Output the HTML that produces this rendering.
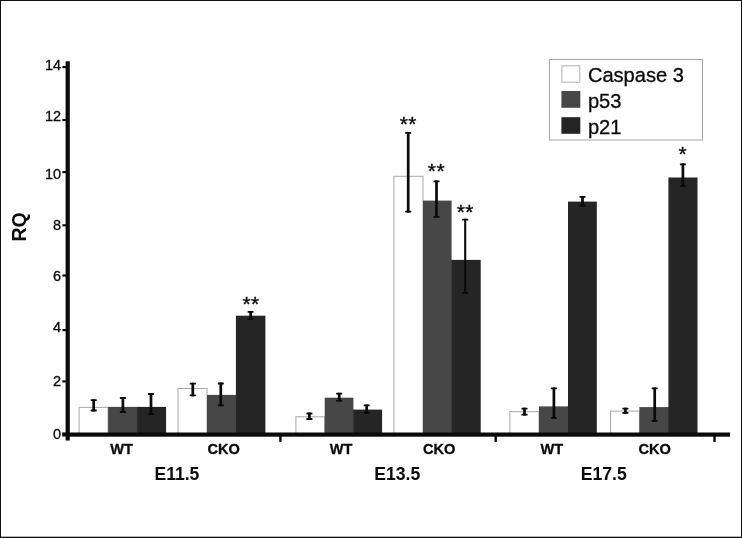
<!DOCTYPE html>
<html><head><meta charset="utf-8"><title>RQ chart</title>
<style>
html,body{margin:0;padding:0;background:#fff;}
body{width:742px;height:538px;overflow:hidden;}
svg{display:block;}
text{font-family:"Liberation Sans",Arial,sans-serif;fill:#0a0a0a;}
.b{font-weight:bold;}
.t{stroke:#0a0a0a;stroke-width:0.3px;}
.s{stroke:#0a0a0a;stroke-width:0.35px;letter-spacing:0.4px;}
</style></head><body>
<svg width="742" height="538" viewBox="0 0 742 538">
<rect x="0" y="0" width="742" height="538" fill="#fff"/>

<rect x="79.1" y="407.4" width="29.0" height="26.1" fill="#fff" stroke="#a8a8a8" stroke-width="1"/>
<rect x="108.1" y="406.9" width="29.0" height="26.1" fill="#474747"/>
<rect x="136.6" y="406.9" width="1.2" height="26.1" fill="#474747"/>
<rect x="137.1" y="406.9" width="29.0" height="26.1" fill="#252525"/>
<rect x="178.0" y="388.5" width="29.0" height="45.0" fill="#fff" stroke="#a8a8a8" stroke-width="1"/>
<rect x="207.0" y="394.9" width="28.9" height="38.1" fill="#474747"/>
<rect x="235.4" y="394.9" width="1.2" height="38.1" fill="#474747"/>
<rect x="235.9" y="315.7" width="29.5" height="117.3" fill="#252525"/>
<rect x="295.9" y="416.8" width="28.8" height="16.7" fill="#fff" stroke="#a8a8a8" stroke-width="1"/>
<rect x="324.7" y="397.7" width="28.7" height="35.3" fill="#474747"/>
<rect x="352.9" y="409.6" width="1.2" height="23.4" fill="#474747"/>
<rect x="353.4" y="409.6" width="28.7" height="23.4" fill="#252525"/>
<rect x="393.9" y="176.3" width="29.1" height="257.2" fill="#fff" stroke="#a8a8a8" stroke-width="1"/>
<rect x="423.0" y="200.6" width="28.6" height="232.4" fill="#474747"/>
<rect x="451.1" y="259.9" width="1.2" height="173.1" fill="#474747"/>
<rect x="451.6" y="259.9" width="29.1" height="173.1" fill="#252525"/>
<rect x="509.9" y="411.7" width="29.1" height="21.8" fill="#fff" stroke="#a8a8a8" stroke-width="1"/>
<rect x="539.0" y="406.4" width="29.0" height="26.6" fill="#474747"/>
<rect x="567.5" y="406.4" width="1.2" height="26.6" fill="#474747"/>
<rect x="568.0" y="201.6" width="28.8" height="231.4" fill="#252525"/>
<rect x="610.5" y="411.1" width="28.9" height="22.4" fill="#fff" stroke="#a8a8a8" stroke-width="1"/>
<rect x="639.4" y="407.1" width="29.0" height="25.9" fill="#474747"/>
<rect x="667.9" y="407.1" width="1.2" height="25.9" fill="#474747"/>
<rect x="668.4" y="177.5" width="29.1" height="255.5" fill="#252525"/>
<rect x="65.6" y="61.3" width="4.2" height="379.2" fill="#0a0a0a"/>
<rect x="66" y="432.5" width="664" height="4.2" fill="#0a0a0a"/>
<rect x="62.4" y="66.0" width="4.5" height="2.2" fill="#0a0a0a"/>
<text class="t" x="61.2" y="70.3" font-size="14.5" text-anchor="end">14</text>
<rect x="62.4" y="118.9" width="4.5" height="2.2" fill="#0a0a0a"/>
<text class="t" x="61.2" y="121.3" font-size="14.5" text-anchor="end">12</text>
<rect x="62.4" y="171.0" width="4.5" height="2.2" fill="#0a0a0a"/>
<text class="t" x="61.2" y="178.5" font-size="14.5" text-anchor="end">10</text>
<rect x="62.4" y="224.2" width="4.5" height="2.2" fill="#0a0a0a"/>
<text class="t" x="61.2" y="229.8" font-size="14.5" text-anchor="end">8</text>
<rect x="62.4" y="274.4" width="4.5" height="2.2" fill="#0a0a0a"/>
<text class="t" x="61.2" y="281.3" font-size="14.5" text-anchor="end">6</text>
<rect x="62.4" y="329.0" width="4.5" height="2.2" fill="#0a0a0a"/>
<text class="t" x="61.2" y="331.8" font-size="14.5" text-anchor="end">4</text>
<rect x="62.4" y="380.3" width="4.5" height="2.2" fill="#0a0a0a"/>
<text class="t" x="61.2" y="386.3" font-size="14.5" text-anchor="end">2</text>
<rect x="62.2" y="432.4" width="5" height="4.1" fill="#0a0a0a"/>
<text class="t" x="61.2" y="438.5" font-size="14.5" text-anchor="end">0</text>
<rect x="279.2" y="436" width="2.4" height="5.9" fill="#0a0a0a"/>
<rect x="494.5" y="436" width="2.4" height="5.9" fill="#0a0a0a"/>
<rect x="713.3" y="436" width="2.4" height="5.9" fill="#0a0a0a"/>
<rect x="92.35" y="399.3" width="2.7" height="12.1" fill="#0a0a0a"/>
<rect x="90.65" y="399.3" width="6.1" height="1.8" rx="0.5" fill="#0a0a0a"/>
<rect x="90.65" y="409.6" width="6.1" height="1.8" rx="0.5" fill="#0a0a0a"/>
<rect x="121.55" y="397.1" width="2.7" height="15.8" fill="#0a0a0a"/>
<rect x="119.85" y="397.1" width="6.1" height="1.8" rx="0.5" fill="#0a0a0a"/>
<rect x="119.85" y="411.1" width="6.1" height="1.8" rx="0.5" fill="#0a0a0a"/>
<rect x="149.65" y="393.1" width="2.7" height="21.9" fill="#0a0a0a"/>
<rect x="147.95" y="393.1" width="6.1" height="1.8" rx="0.5" fill="#0a0a0a"/>
<rect x="147.95" y="413.2" width="6.1" height="1.8" rx="0.5" fill="#0a0a0a"/>
<rect x="191.45" y="382.8" width="2.7" height="13.5" fill="#0a0a0a"/>
<rect x="189.75" y="382.8" width="6.1" height="1.8" rx="0.5" fill="#0a0a0a"/>
<rect x="189.75" y="394.5" width="6.1" height="1.8" rx="0.5" fill="#0a0a0a"/>
<rect x="219.45" y="382.6" width="2.7" height="23.7" fill="#0a0a0a"/>
<rect x="217.75" y="382.6" width="6.1" height="1.8" rx="0.5" fill="#0a0a0a"/>
<rect x="217.75" y="404.5" width="6.1" height="1.8" rx="0.5" fill="#0a0a0a"/>
<rect x="249.25" y="311.0" width="2.7" height="8.8" fill="#0a0a0a"/>
<rect x="247.55" y="311.0" width="6.1" height="1.8" rx="0.5" fill="#0a0a0a"/>
<rect x="247.55" y="318.0" width="6.1" height="1.8" rx="0.5" fill="#0a0a0a"/>
<rect x="308.05" y="412.6" width="2.7" height="7.3" fill="#0a0a0a"/>
<rect x="306.35" y="412.6" width="6.1" height="1.8" rx="0.5" fill="#0a0a0a"/>
<rect x="306.35" y="418.1" width="6.1" height="1.8" rx="0.5" fill="#0a0a0a"/>
<rect x="337.85" y="392.8" width="2.7" height="8.7" fill="#0a0a0a"/>
<rect x="336.15" y="392.8" width="6.1" height="1.8" rx="0.5" fill="#0a0a0a"/>
<rect x="336.15" y="399.7" width="6.1" height="1.8" rx="0.5" fill="#0a0a0a"/>
<rect x="365.35" y="404.5" width="2.7" height="9.3" fill="#0a0a0a"/>
<rect x="363.65" y="404.5" width="6.1" height="1.8" rx="0.5" fill="#0a0a0a"/>
<rect x="363.65" y="412.0" width="6.1" height="1.8" rx="0.5" fill="#0a0a0a"/>
<rect x="406.85" y="131.9" width="2.7" height="80.7" fill="#0a0a0a"/>
<rect x="405.15" y="131.9" width="6.1" height="1.8" rx="0.5" fill="#0a0a0a"/>
<rect x="405.15" y="210.8" width="6.1" height="1.8" rx="0.5" fill="#0a0a0a"/>
<rect x="435.15" y="180.5" width="2.7" height="37.3" fill="#0a0a0a"/>
<rect x="433.45" y="180.5" width="6.1" height="1.8" rx="0.5" fill="#0a0a0a"/>
<rect x="433.45" y="216.0" width="6.1" height="1.8" rx="0.5" fill="#0a0a0a"/>
<rect x="464.15" y="218.8" width="2.1" height="74.9" fill="#0a0a0a"/>
<rect x="462.15" y="218.8" width="6.1" height="1.8" rx="0.5" fill="#0a0a0a"/>
<rect x="462.15" y="291.9" width="6.1" height="1.8" rx="0.5" fill="#0a0a0a"/>
<rect x="523.15" y="407.7" width="2.7" height="7.9" fill="#0a0a0a"/>
<rect x="521.45" y="407.7" width="6.1" height="1.8" rx="0.5" fill="#0a0a0a"/>
<rect x="521.45" y="413.8" width="6.1" height="1.8" rx="0.5" fill="#0a0a0a"/>
<rect x="552.55" y="387.5" width="2.7" height="31.2" fill="#0a0a0a"/>
<rect x="550.85" y="387.5" width="6.1" height="1.8" rx="0.5" fill="#0a0a0a"/>
<rect x="550.85" y="416.9" width="6.1" height="1.8" rx="0.5" fill="#0a0a0a"/>
<rect x="581.15" y="196.0" width="2.7" height="10.4" fill="#0a0a0a"/>
<rect x="579.45" y="196.0" width="6.1" height="1.8" rx="0.5" fill="#0a0a0a"/>
<rect x="579.45" y="204.6" width="6.1" height="1.8" rx="0.5" fill="#0a0a0a"/>
<rect x="624.05" y="407.7" width="2.7" height="6.1" fill="#0a0a0a"/>
<rect x="622.35" y="407.7" width="6.1" height="1.8" rx="0.5" fill="#0a0a0a"/>
<rect x="622.35" y="412.0" width="6.1" height="1.8" rx="0.5" fill="#0a0a0a"/>
<rect x="653.35" y="387.5" width="2.7" height="34.2" fill="#0a0a0a"/>
<rect x="651.65" y="387.5" width="6.1" height="1.8" rx="0.5" fill="#0a0a0a"/>
<rect x="651.65" y="419.9" width="6.1" height="1.8" rx="0.5" fill="#0a0a0a"/>
<rect x="681.55" y="163.4" width="2.7" height="23.6" fill="#0a0a0a"/>
<rect x="679.85" y="163.4" width="6.1" height="1.8" rx="0.5" fill="#0a0a0a"/>
<rect x="679.85" y="185.2" width="6.1" height="1.8" rx="0.5" fill="#0a0a0a"/>
<text class="b t" x="121.5" y="453.9" font-size="14.6" text-anchor="middle">WT</text>
<text class="b t" x="223.7" y="453.9" font-size="14.6" text-anchor="middle">CKO</text>
<text class="b t" x="341.2" y="453.9" font-size="14.6" text-anchor="middle">WT</text>
<text class="b t" x="439.1" y="453.9" font-size="14.6" text-anchor="middle">CKO</text>
<text class="b t" x="551.8" y="453.9" font-size="14.6" text-anchor="middle">WT</text>
<text class="b t" x="654.7" y="453.9" font-size="14.6" text-anchor="middle">CKO</text>
<text class="b" x="176.9" y="479.6" font-size="17.6" text-anchor="middle">E11.5</text>
<text class="b" x="397.3" y="479.6" font-size="17.6" text-anchor="middle">E13.5</text>
<text class="b" x="603.7" y="479.6" font-size="17.6" text-anchor="middle">E17.5</text>
<text class="b" x="0" y="0" font-size="21" text-anchor="middle" transform="translate(25.9,226.9) rotate(-90) scale(0.93,1)">RQ</text>
<text class="s" x="251.10" y="310.55" font-size="21" text-anchor="middle">**</text>
<text class="s" x="408.25" y="130.60" font-size="21" text-anchor="middle">**</text>
<text class="s" x="436.45" y="178.40" font-size="21" text-anchor="middle">**</text>
<text class="s" x="465.25" y="218.50" font-size="21" text-anchor="middle">**</text>
<text class="s" x="682.90" y="160.85" font-size="21" text-anchor="middle">*</text>
<rect x="549.5" y="59.5" width="153" height="80.5" fill="#fff" stroke="#a8a8a8" stroke-width="1"/>
<rect x="561.9" y="65.8" width="17.9" height="16.4" fill="#fff" stroke="#b0b0b0" stroke-width="1"/>
<rect x="561.4" y="91" width="18.9" height="16.8" fill="#474747"/>
<rect x="561.4" y="117.2" width="18.9" height="16.6" fill="#252525"/>
<text class="t" x="587.9" y="82.1" font-size="20.1">Caspase 3</text>
<text class="t" x="587.9" y="107.8" font-size="20.1">p53</text>
<text class="t" x="587.9" y="133.7" font-size="20.1">p21</text>
<rect x="0" y="0" width="742" height="1" fill="#111"/>
<rect x="0" y="0" width="1" height="538" fill="#111"/>
<rect x="741" y="0" width="1" height="538" fill="#111"/>
<rect x="0" y="536.7" width="742" height="1.3" fill="#111"/>
</svg></body></html>
